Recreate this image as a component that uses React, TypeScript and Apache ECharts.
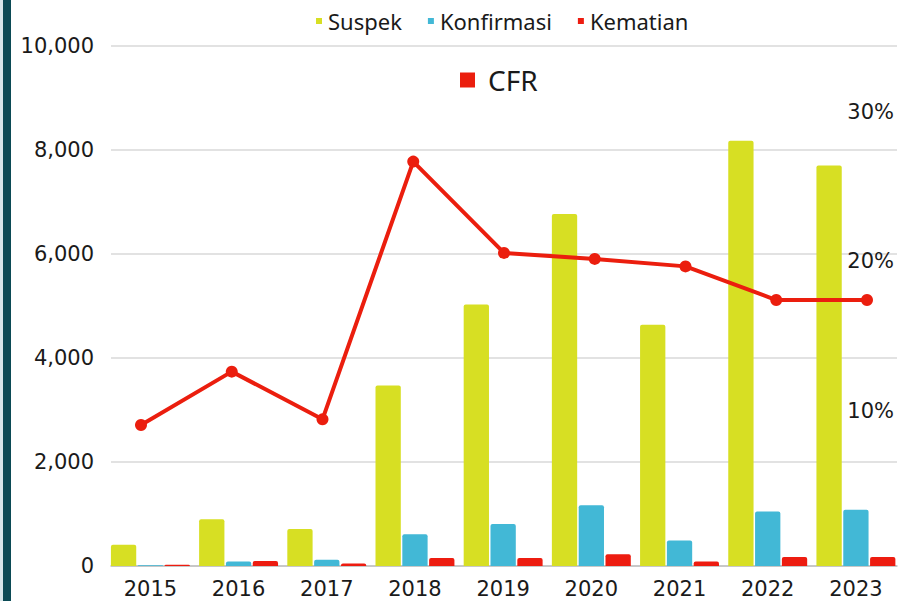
import React, { useEffect, useRef } from "react";
import * as echarts from "echarts";

const years = ["2015", "2016", "2017", "2018", "2019", "2020", "2021", "2022", "2023"];
const suspek = [410, 900, 710, 3470, 5030, 6770, 4640, 8180, 7700];
const konfirmasi = [15, 85, 120, 610, 810, 1170, 490, 1050, 1080];
const kematian = [25, 95, 50, 155, 155, 225, 85, 175, 175];
const cfr = [9.06, 12.63, 9.44, 26.68, 20.57, 20.17, 19.67, 17.42, 17.42];
const leftTicks = [0, 2000, 4000, 6000, 8000, 10000];
const rightTicks = [10, 20, 30];

const AXIS_FONT = "DejaVu Sans";
const LEGEND_FONT = "Noto Sans";
const PMIN = -0.37;
const PMAX = 34.41;

export default function App() {
  const ref = useRef<HTMLDivElement>(null);
  useEffect(() => {
    document.body.style.margin = "0";
    const chart = echarts.init(ref.current!, null, { renderer: "svg" });
    const gridTop = 46;
    const gridH = 520;
    chart.setOption({
      animation: false,
      backgroundColor: "#ffffff",
      graphic: [
        { type: "rect", shape: { x: 0, y: 0, width: 3, height: 601 }, style: { fill: "#d6e6ea" } },
        { type: "rect", shape: { x: 3, y: 0, width: 8, height: 601 }, style: { fill: "#0b4a55" } },
      ],
      legend: [
        {
          data: ["Suspek", "Konfirmasi", "Kematian"],
          left: 316,
          top: 10,
          padding: 0,
          icon: "rect",
          itemWidth: 6,
          itemHeight: 6,
          itemGap: 26,
          textStyle: { fontFamily: LEGEND_FONT, fontSize: 22, color: "#1a1a1a", padding: [0, 0, 0, 1] },
        },
        {
          data: [{ name: "CFR", icon: "rect" }],
          left: 460,
          top: 66,
          padding: 0,
          itemWidth: 15,
          itemHeight: 15,
          textStyle: { fontFamily: LEGEND_FONT, fontSize: 28, color: "#1a1a1a", padding: [0, 0, 0, 8] },
        },
      ],
      grid: [
        { left: 111, width: 786, top: gridTop, height: gridH },
        { left: 106.3, width: 794.6, top: gridTop, height: gridH },
        { left: 141, width: 726, top: gridTop, height: gridH },
      ],
      xAxis: [
        {
          type: "category",
          gridIndex: 0,
          data: years,
          axisLine: { show: true, lineStyle: { color: "#bfbfbf", width: 1.5 } },
          axisTick: { show: false },
          axisLabel: { show: false },
        },
        {
          type: "category",
          gridIndex: 1,
          data: years,
          axisLine: { show: false },
          axisTick: { show: false },
          axisLabel: { fontFamily: AXIS_FONT, fontSize: 21, color: "#1a1a1a", margin: 12 },
        },
        {
          type: "category",
          gridIndex: 2,
          data: years,
          boundaryGap: false,
          show: false,
        },
      ],
      yAxis: [
        {
          type: "value",
          gridIndex: 0,
          min: 0,
          max: 10000,
          interval: 2000,
          axisLine: { show: false },
          axisTick: { show: false },
          splitLine: { show: true, lineStyle: { color: "#d9d9d9", width: 1.5 } },
          axisLabel: {
            fontFamily: AXIS_FONT,
            fontSize: 21,
            color: "#1a1a1a",
            margin: 17,
            customValues: leftTicks,
            formatter: (v: number) => v.toLocaleString("en-US"),
          },
        },
        {
          type: "value",
          gridIndex: 0,
          position: "right",
          min: PMIN,
          max: PMAX,
          axisLine: { show: false },
          axisTick: { show: false },
          splitLine: { show: false },
          axisLabel: {
            inside: true,
            margin: 3,
            align: "right",
            fontFamily: AXIS_FONT,
            fontSize: 21,
            color: "#1a1a1a",
            customValues: rightTicks,
            formatter: (v: number) => Math.round(v) + "%",
          },
        },
        { type: "value", gridIndex: 1, min: 0, max: 10000, show: false, splitLine: { show: false } },
        { type: "value", gridIndex: 2, min: PMIN, max: PMAX, show: false, splitLine: { show: false } },
      ],
      series: [
        {
          name: "Suspek",
          type: "bar",
          xAxisIndex: 1,
          yAxisIndex: 2,
          data: suspek,
          barGap: "6%",
          barCategoryGap: "10.5%",
          itemStyle: { color: "#d7df23", borderRadius: [2, 2, 0, 0] },
        },
        {
          name: "Konfirmasi",
          type: "bar",
          xAxisIndex: 1,
          yAxisIndex: 2,
          data: konfirmasi,
          barGap: "6%",
          barCategoryGap: "10.5%",
          itemStyle: { color: "#42b8d6", borderRadius: [2, 2, 0, 0] },
        },
        {
          name: "Kematian",
          type: "bar",
          xAxisIndex: 1,
          yAxisIndex: 2,
          data: kematian,
          barGap: "6%",
          barCategoryGap: "10.5%",
          itemStyle: { color: "#ed1c10", borderRadius: [2, 2, 0, 0] },
        },
        {
          name: "CFR",
          type: "line",
          xAxisIndex: 2,
          yAxisIndex: 3,
          data: cfr,
          symbol: "circle",
          symbolSize: 12,
          lineStyle: { color: "#eb1e0e", width: 4 },
          itemStyle: { color: "#eb1e0e" },
          z: 5,
        },
      ],
    });
    return () => chart.dispose();
  }, []);
  return <div ref={ref} style={{ width: 900, height: 601 }} />;
}
